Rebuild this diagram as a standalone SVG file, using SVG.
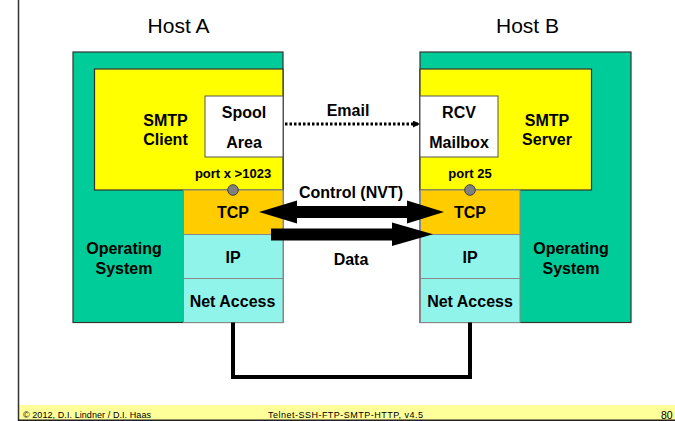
<svg xmlns="http://www.w3.org/2000/svg" width="675" height="421" viewBox="0 0 675 421">
<defs>
<style>
.os{fill:#00CC99;stroke:#333;stroke-width:1.2}
.app{fill:#FFFF00;stroke:#333;stroke-width:1.2}
.box{fill:#FFFFFF;stroke:#555;stroke-width:1}
.tcp{fill:#FFCC00;stroke:#888;stroke-width:1}
.ip{fill:#90F4EA;stroke:#888;stroke-width:1}
.port{fill:#808080;stroke:#404040;stroke-width:1}
text{font-family:"Liberation Sans",Arial,sans-serif;fill:#000}
.b{font-weight:bold;font-size:16px;text-anchor:middle}
.p{font-weight:bold;font-size:13px;text-anchor:middle}
.h{font-size:21px;text-anchor:middle}
.f{font-size:9px}
</style>
<marker id="ah" viewBox="0 0 10 10" refX="10" refY="5" markerWidth="7" markerHeight="7" markerUnits="userSpaceOnUse" orient="auto">
<path d="M0,0 L10,5 L0,10 z" fill="#000"/>
</marker>
</defs>
<rect width="675" height="421" fill="#fff"/>
<!-- frame -->
<rect x="18" y="405" width="657" height="15" fill="#FFFF99"/>
<line x1="18.5" y1="0" x2="18.5" y2="421" stroke="#333" stroke-width="1.5"/>
<line x1="18" y1="420.2" x2="675" y2="420.2" stroke="#222" stroke-width="1.5"/>
<text class="f" x="23" y="418" textLength="128">© 2012, D.I. Lindner / D.I. Haas</text>
<text class="f" x="268" y="418" textLength="155">Telnet-SSH-FTP-SMTP-HTTP, v4.5</text>
<text x="661" y="419" font-size="10.5" font-family="Liberation Sans,Arial,sans-serif">80</text>

<g id="hostA">
<text class="h" x="178.5" y="33">Host A</text>
<rect class="os" x="73" y="52" width="210" height="270.5"/>
<text class="b" x="124" y="254">Operating</text>
<text class="b" x="124" y="273.5">System</text>
</g>
<g id="smtpClient">
<rect class="app" x="94.5" y="69" width="188.5" height="121"/>
<text class="b" x="165.5" y="126">SMTP</text>
<text class="b" x="165.5" y="145">Client</text>
<text class="p" x="233" y="177.7">port x &gt;1023</text>
</g>
<g id="spool">
<rect class="box" x="205" y="96" width="78" height="61"/>
<text class="b" x="244" y="118">Spool</text>
<text class="b" x="244" y="148">Area</text>
</g>
<g id="tcpA">
<rect class="tcp" x="183.5" y="190" width="99.5" height="44.5"/>
<text class="b" x="233" y="218.3">TCP</text>
</g>
<g id="ipA">
<rect class="ip" x="183.5" y="234.5" width="99.5" height="44"/>
<text class="b" x="233" y="263">IP</text>
</g>
<g id="netA">
<rect class="ip" x="183.5" y="278.5" width="99.5" height="44"/>
<text class="b" x="232.5" y="307.3">Net Access</text>
</g>
<circle id="portA" class="port" cx="233" cy="190" r="5.3"/>

<g id="hostB">
<text class="h" x="527.5" y="33">Host B</text>
<rect class="os" x="420" y="52" width="211" height="270.5"/>
<text class="b" x="571" y="254">Operating</text>
<text class="b" x="571" y="273.5">System</text>
</g>
<g id="smtpServer">
<rect class="app" x="420" y="69" width="171.5" height="121"/>
<text class="b" x="547" y="126">SMTP</text>
<text class="b" x="547" y="145">Server</text>
<text class="p" x="470" y="177.7">port 25</text>
</g>
<g id="rcv">
<rect class="box" x="420" y="96" width="78" height="61"/>
<text class="b" x="459" y="118">RCV</text>
<text class="b" x="459" y="148">Mailbox</text>
</g>
<g id="tcpB">
<rect class="tcp" x="420.5" y="190" width="99.5" height="44.5"/>
<text class="b" x="470" y="218.3">TCP</text>
</g>
<g id="ipB">
<rect class="ip" x="420.5" y="234.5" width="99.5" height="44"/>
<text class="b" x="470" y="263">IP</text>
</g>
<g id="netB">
<rect class="ip" x="420.5" y="278.5" width="99.5" height="44"/>
<text class="b" x="470" y="307.3">Net Access</text>
</g>
<circle id="portB" class="port" cx="470" cy="190" r="5.3"/>

<g id="connectors">
<line x1="285" y1="124" x2="420" y2="124" stroke="#000" stroke-width="3" stroke-dasharray="2.5 2" marker-end="url(#ah)"/>
<text class="b" x="348" y="116">Email</text>
<polygon points="259,212 297,200.5 297,206 407,206 407,200.5 444,212 407,223.5 407,218 297,218 297,223.5" fill="#000"/>
<text class="b" x="351" y="198">Control (NVT)</text>
<polygon points="271,228.5 392,228.5 392,222.5 433,234.3 392,246 392,240.5 271,240.5" fill="#000"/>
<text class="b" x="351" y="265">Data</text>
<polyline points="233,322.5 233,377 470,377 470,322.5" fill="none" stroke="#000" stroke-width="4"/>
</g>
</svg>
